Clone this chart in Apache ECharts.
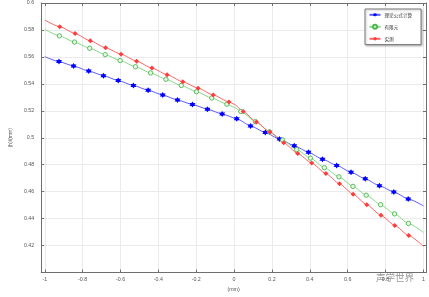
<!DOCTYPE html>
<html><head><meta charset="utf-8">
<script src="https://cdn.jsdelivr.net/npm/echarts@6/dist/echarts.min.js"></script>
<style>html,body{margin:0;padding:0;background:#fff}#c{width:429px;height:297px}</style>
</head><body><div id="c"></div>
<script>
const seriesNames = ['理论公式计算', '有限元', '实测'];
const xAxisName = '(mm)';
const yAxisName = '(h)/(mm)';
const watermark = '声学世界';

// marker points
const blueX = [-0.925,-0.848,-0.768,-0.690,-0.612,-0.532,-0.454,-0.377,-0.299,-0.220,-0.141,-0.063,0.014,0.087,0.165,0.240,0.318,0.393,0.467,0.542,0.618,0.693,0.768,0.844,0.920];
const blueY = [0.5565,0.5532,0.5495,0.5461,0.5424,0.5388,0.5353,0.5317,0.5280,0.5247,0.5212,0.5176,0.5141,0.5088,0.5039,0.4990,0.4941,0.4892,0.4841,0.4795,0.4744,0.4695,0.4644,0.4598,0.4546];
const greenX = [-0.923,-0.843,-0.763,-0.681,-0.602,-0.521,-0.441,-0.360,-0.279,-0.199,-0.118,-0.038,0.036,0.113,0.187,0.257,0.331,0.403,0.477,0.554,0.628,0.698,0.774,0.848,0.921];
const greenY = [0.5756,0.5710,0.5664,0.5617,0.5573,0.5527,0.5481,0.5434,0.5388,0.5342,0.5295,0.5249,0.5195,0.5119,0.5044,0.4983,0.4912,0.4849,0.4778,0.4710,0.4639,0.4574,0.4503,0.4435,0.4364];
const redX = [-0.921,-0.840,-0.760,-0.679,-0.597,-0.515,-0.434,-0.354,-0.271,-0.190,-0.110,-0.027,0.048,0.118,0.189,0.262,0.336,0.410,0.485,0.557,0.629,0.701,0.776,0.849,0.923];
const redY = [0.5824,0.5773,0.5719,0.5668,0.5620,0.5568,0.5517,0.5468,0.5415,0.5368,0.5317,0.5266,0.5195,0.5117,0.5042,0.4963,0.4883,0.4812,0.4734,0.4658,0.4581,0.4503,0.4424,0.4349,0.4274];

// curve points without markers (ends and bends)
const blueLineX = [-1, 1];
const blueLineY = [0.5602, 0.4495];
const greenLineX = [-1, 0.0, 1];
const greenLineY = [0.5805, 0.5227, 0.4298];
const redLineX = [-1, 0.0, 1];
const redLineY = [0.5873, 0.5249, 0.4195];

function build(mx, my, lx, ly) {
  const pts = mx.map((x, i) => ({ value: [x, my[i]] }))
    .concat(lx.map((x, i) => ({ value: [x, ly[i]], symbol: 'none' })));
  pts.sort((a, b) => a.value[0] - b.value[0]);
  return pts;
}

const FONT = "'Liberation Sans','Noto Sans CJK SC',sans-serif";
const AX = '#6f6f6f';
const starPath = 'path://M50,0L64.4,25L93.3,25L78.9,50L93.3,75L64.4,75L50,100L35.6,75L6.7,75L21.1,50L6.7,25L35.6,25Z';

const chart = echarts.init(document.getElementById('c'), null, { renderer: 'canvas' });
const xCommon = { type: 'value', min: -1.019, max: 1.014, splitNumber: 10 };
const yCommon = { type: 'value', min: 0.4, max: 0.6, interval: 0.02 };
chart.setOption({
  animation: false,
  backgroundColor: '#fff',
  textStyle: { fontFamily: FONT },
  grid: { left: 31, right: 3, top: 3, bottom: 20, containLabel: false },
  legend: {
    orient: 'vertical',
    left: 365, top: 9,
    padding: [3.5, 9, 3.5, 3.5],
    itemWidth: 11, itemHeight: 5, itemGap: 6.7,
    backgroundColor: '#fff',
    borderColor: '#7a7a7a', borderWidth: 1, borderRadius: 0,
    shadowBlur: 2, shadowColor: 'rgba(0,0,0,0.25)', shadowOffsetX: 1, shadowOffsetY: 1,
    textStyle: { fontSize: 4.6, color: '#333', fontFamily: "'Noto Sans CJK SC',sans-serif", padding: [0, 0, 0, -1] },
    data: seriesNames
  },
  xAxis: [
    Object.assign({}, xCommon, {
      position: 'bottom',
      name: xAxisName, nameLocation: 'middle', nameGap: 13,
      nameTextStyle: { fontSize: 5.3, color: '#555' },
      axisLine: { show: true, onZero: false, lineStyle: { color: AX, width: 1 } },
      axisTick: { show: true, inside: true, length: 3, lineStyle: { color: AX } },
      axisLabel: { fontSize: 5.3, color: '#555', margin: 4, showMinLabel: false, showMaxLabel: false },
      splitLine: { show: true, lineStyle: { color: '#ebebeb', width: 1 } }
    }),
    Object.assign({}, xCommon, {
      position: 'top',
      axisLine: { show: true, onZero: false, lineStyle: { color: AX, width: 1 } },
      axisTick: { show: true, inside: true, length: 3, lineStyle: { color: AX } },
      axisLabel: { show: false },
      splitLine: { show: false }
    })
  ],
  yAxis: [
    Object.assign({}, yCommon, {
      position: 'left',
      name: yAxisName, nameLocation: 'middle', nameGap: 24, nameRotate: 90,
      nameTextStyle: { fontSize: 5, color: '#555' },
      axisLine: { show: true, onZero: false, lineStyle: { color: AX, width: 1 } },
      axisTick: { show: true, inside: true, length: 3, lineStyle: { color: AX } },
      axisLabel: { fontSize: 5.3, color: '#555', margin: 7, showMinLabel: false },
      splitLine: { show: true, lineStyle: { color: '#ebebeb', width: 1 } }
    }),
    Object.assign({}, yCommon, {
      position: 'right',
      axisLine: { show: true, onZero: false, lineStyle: { color: AX, width: 1 } },
      axisTick: { show: true, inside: true, length: 3, lineStyle: { color: AX } },
      axisLabel: { show: false },
      splitLine: { show: false }
    })
  ],
  series: [
    {
      name: seriesNames[0], type: 'line', xAxisIndex: 0, yAxisIndex: 0,
      data: build(blueX, blueY, blueLineX, blueLineY),
      showSymbol: true, showAllSymbol: true,
      symbol: starPath, symbolSize: 6,
      itemStyle: { color: '#0000ff' },
      lineStyle: { color: '#5c5cff', width: 1 },
      smooth: 0.2, smoothMonotone: 'x'
    },
    {
      name: seriesNames[1], type: 'line', xAxisIndex: 0, yAxisIndex: 0,
      data: build(greenX, greenY, greenLineX, greenLineY),
      showSymbol: true, showAllSymbol: true,
      symbol: 'circle', symbolSize: 4.4,
      itemStyle: { color: '#e8f7e8', borderColor: '#4fb74f', borderWidth: 0.9 },
      lineStyle: { color: '#86d886', width: 1 },
      smooth: 0.2, smoothMonotone: 'x'
    },
    {
      name: seriesNames[2], type: 'line', xAxisIndex: 0, yAxisIndex: 0,
      data: build(redX, redY, redLineX, redLineY),
      showSymbol: true, showAllSymbol: true,
      symbol: 'diamond', symbolSize: 5,
      itemStyle: { color: '#ff3b3b' },
      lineStyle: { color: '#ff6262', width: 1 },
      smooth: 0.2, smoothMonotone: 'x'
    }
  ],
  graphic: [
    {
      type: 'text', left: 376, top: 273, z: 100,
      style: { text: watermark, fontSize: 9.5, fill: 'rgba(80,80,80,0.6)', fontFamily: "'Noto Sans CJK SC',sans-serif" }
    }
  ]
});
</script>
</body></html>
